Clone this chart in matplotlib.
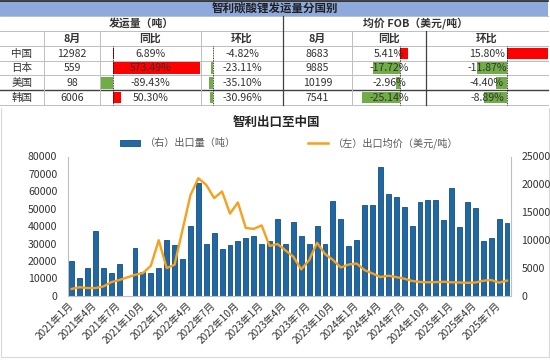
import numpy as np
import matplotlib
matplotlib.use("Agg")
import matplotlib.pyplot as plt
from matplotlib.patches import Rectangle
from matplotlib.lines import Line2D

plt.rcParams['font.family'] = ['Noto Sans CJK SC', 'DejaVu Sans']

# ---------------- table data ----------------
countries = ['中国', '日本', '美国', '韩国']
vol_aug = [12982, 559, 98, 6006]
vol_yoy = [6.89, 573.49, -89.43, 50.30]
vol_mom = [-4.82, -23.11, -35.10, -30.96]
price_aug = [8683, 9885, 10199, 7541]
price_yoy = [5.41, -17.72, -2.96, -25.14]
price_mom = [15.80, -11.87, -4.40, -8.89]

# ---------------- chart data ----------------
# monthly, 2021-01 .. 2025-08
export_volume = [6300, 3250, 4930, 11700, 5050, 4000, 5780, np.nan, 8480, 4220, 4100, 5050,
                 10000, 9100, 6550, 12500, 20320, 9230, 11300, 8450, 9110, 9770, 10310, 10790,
                 9350, 9770, 13730, 9230, 13290, 10770, 9350, 12450, 9350, 17090, 13850, 8930,
                 10050, 16220, 16370, 23200, 18200, 17660, 15990, 12430, 16800, 17220, 17220, 13560,
                 19370, 12300, 16800, 15830, 9900, 10430, 13850, 13050]
export_price = [3900, 4900, 4400, 4400, 5300, 7800, 9000, 10500, 12000, 13000, 17200, 31900,
                15900, 17800, 37800, 57700, 67500, 63700, 56100, 59900, 47200, 53600, 38900, 38400,
                40400, 28600, 29700, 26100, 22400, 15150, 20400, 30400, 24000, 20600, 16200, 17900,
                18500, 14700, 12800, 10700, 11500, 10700, 9800, 8500, 7900, 7700, 7800, 8000,
                7700, 7600, 7400, 7600, 8600, 9000, 7498, 8683]
tick_labels = ['2021年1月', '2021年4月', '2021年7月', '2021年10月',
               '2022年1月', '2022年4月', '2022年7月', '2022年10月',
               '2023年1月', '2023年4月', '2023年7月', '2023年10月',
               '2024年1月', '2024年4月', '2024年7月', '2024年10月',
               '2025年1月', '2025年4月', '2025年7月']

W, H = 550, 360
fig = plt.figure(figsize=(5.5, 3.6), dpi=100)
fig.patch.set_facecolor('white')

# overlay axes in pixel coordinates for the table and decorations
at = fig.add_axes([0, 0, 1, 1])
at.set_xlim(0, W)
at.set_ylim(H, 0)
at.axis('off')

txt = '#333333'
light = '#BFBFBF'
dark = '#404040'

# title bar
at.add_patch(Rectangle((0, 0.5), 548, 15, facecolor='#8EA9DB', edgecolor='none'))
at.text(275, 8.3, '智利碳酸锂发运量分国别', ha='center', va='center', fontsize=8.3,
        fontweight='bold', color='#1F1F1F')
at.plot([0, 548], [0.6, 0.6], color='#202020', lw=1.2)

cols = [0, 44, 100, 201, 283, 352, 426, 548]
rows = [15.5, 31, 46, 60.5, 75, 90, 104.5]

at.text(141.5, 23.2, '发运量（吨）', ha='center', va='center', fontsize=7.8,
        fontweight='bold', color=txt)
at.text(415.5, 23.2, '均价 FOB（美元/吨）', ha='center', va='center', fontsize=7.8,
        fontweight='bold', color=txt)
headers = ['8月', '同比', '环比', '8月', '同比', '环比']
for i, h in enumerate(headers):
    at.text((cols[i + 1] + cols[i + 2]) / 2, 38.7, h, ha='center', va='center',
            fontsize=7.8, fontweight='bold', color=txt)

# horizontal grid lines
for y in rows:
    c = dark if y == 90 else light
    at.plot([0, 548], [y, y], color=c, lw=1.0 if y == 90 else 0.7)
# vertical grid lines
for x in [44, 100, 201, 352]:
    at.plot([x, x], [31, 104.5], color=light, lw=0.7)
at.plot([283, 283], [15.5, 104.5], color=dark, lw=0.9)
at.plot([426, 426], [31, 104.5], color=dark, lw=0.9)


def databar(axis_x, scale, val, r0, r1):
    color = '#FF0000' if val >= 0 else '#70AD47'
    at.add_patch(Rectangle((axis_x, r0 + 1.5), val * scale, (r1 - r0) - 3,
                           facecolor=color, edgecolor='none'))


bar_cols = [(vol_yoy, 113.3, 0.151), (vol_mom, 213.0, 0.10),
            (price_yoy, 400.0, 1.5), (price_mom, 507.3, 2.58)]
for series, ax_x, sc in bar_cols:
    for r, v in enumerate(series):
        databar(ax_x, sc, v, rows[2 + r], rows[3 + r])
    at.plot([ax_x, ax_x], [46, 104.5], color='black', lw=0.6, ls=(0, (1, 1)))

for r in range(4):
    yc = (rows[2 + r] + rows[3 + r]) / 2 + 0.3
    vals = [countries[r], f'{vol_aug[r]}', f'{vol_yoy[r]:.2f}%', f'{vol_mom[r]:.2f}%',
            f'{price_aug[r]}', f'{price_yoy[r]:.2f}%', f'{price_mom[r]:.2f}%']
    for c, s in enumerate(vals):
        at.text((cols[c] + cols[c + 1]) / 2, yc, s, ha='center', va='center',
                fontsize=7.6, color=txt)

# chart frame (left, bottom, right)
at.plot([1, 1, 549, 549], [108, 357, 357, 108], color='#D9D9D9', lw=0.8)

# chart title and legend
at.text(276, 122, '智利出口至中国', ha='center', va='center', fontsize=9,
        fontweight='bold', color='#262626')
at.add_patch(Rectangle((120, 140), 20, 5.5, facecolor='#2369A6', edgecolor='#17507F', lw=0.6))
at.text(145, 143, '（右）出口量（吨）', ha='left', va='center', fontsize=7.3, color='#595959')
at.add_line(Line2D([308, 328], [143, 143], color='#F7A01B', lw=1.8))
at.text(333, 143, '（左）出口均价（美元/吨）', ha='left', va='center', fontsize=7.3,
        color='#595959')

# ---------------- chart ----------------
x0, x1, y0, y1 = 67.7, 511.0, 295.7, 156.5
ax = fig.add_axes([x0 / W, (H - y0) / H, (x1 - x0) / W, (y0 - y1) / H])
ax2 = ax.twinx()
idx = np.arange(len(export_volume))

ax2.bar(idx, export_volume, width=0.62, color='#2068A4', edgecolor='#154E80', linewidth=0.6)
ax.plot(idx, export_price, color='#F7A01B', lw=1.7, solid_joinstyle='round')

ax.set_zorder(ax2.get_zorder() + 1)
ax.patch.set_visible(False)

ax.set_xlim(-0.5, len(export_volume) - 0.5)
ax.set_ylim(0, 80000)
ax2.set_ylim(0, 25000)
ax.set_yticks(np.arange(0, 80001, 10000))
ax2.set_yticks(np.arange(0, 25001, 5000))
ax.set_xticks(idx[::3])
ax.set_xticklabels(tick_labels, rotation=45, ha='right', va='center',
                   rotation_mode='anchor', fontsize=7.3, color=txt)
for a in (ax, ax2):
    for s in a.spines.values():
        s.set_visible(False)
ax.spines['left'].set_visible(True)
ax.spines['left'].set_color('#BFBFBF')
ax.spines['bottom'].set_visible(True)
ax.spines['bottom'].set_color('#BFBFBF')
ax2.spines['right'].set_visible(True)
ax2.spines['right'].set_color('#BFBFBF')
ax.tick_params(axis='y', length=0, pad=7.5, labelsize=7.6, labelcolor=txt)
ax2.tick_params(axis='y', length=0, pad=7.5, labelsize=7.6, labelcolor=txt)
ax.tick_params(axis='x', length=0, pad=6)

fig.savefig('out.png', dpi=100, facecolor='white')
